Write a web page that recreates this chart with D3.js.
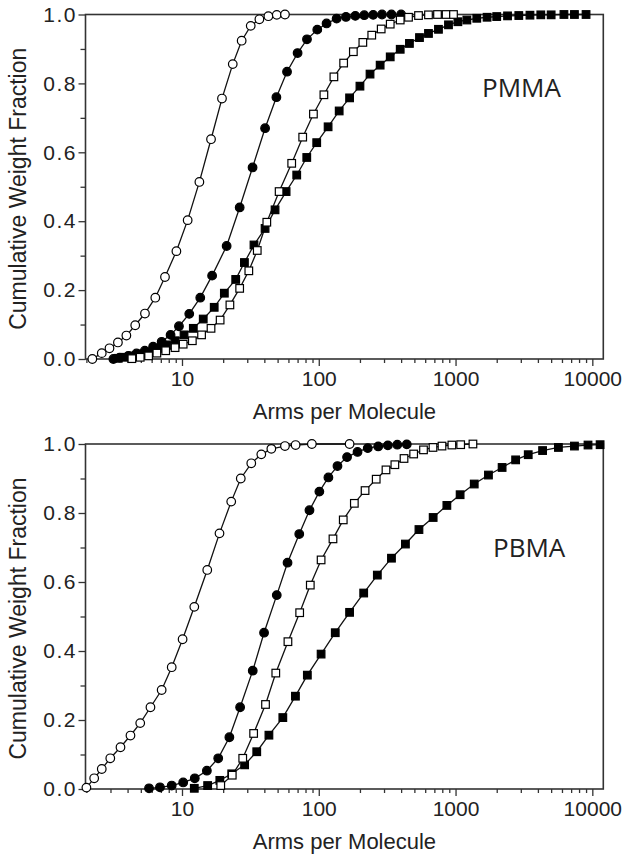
<!DOCTYPE html>
<html>
<head>
<meta charset="utf-8">
<script src="https://cdn.jsdelivr.net/npm/d3@7"></script>
<style>
    body { margin: 0; background: #fff; }
    svg { display: block; }
    .tick text { font-family: 'Liberation Sans', Arial, sans-serif; font-size: 21px; fill: #222; }
</style>
</head>
<body>
<svg id="chart" width="625" height="859"></svg>
<script>
// PMMA (top panel)
const pmmaOpenCircleX = [2.21, 2.59, 2.95, 3.4, 3.92, 4.55, 5.36, 6.38, 7.51, 9.1, 11.0, 13.4, 16.3, 19.6, 23.5, 27.3, 31.8, 36.8, 42.8, 49.3, 56.6];
const pmmaOpenCircleY = [0.0, 0.017, 0.031, 0.048, 0.068, 0.098, 0.132, 0.178, 0.238, 0.313, 0.403, 0.514, 0.638, 0.756, 0.856, 0.924, 0.967, 0.986, 0.995, 0.999, 1.0];
const pmmaFilledCircleX = [3.15, 3.5, 4.05, 4.65, 5.35, 6.15, 7.1, 8.25, 9.5, 11.3, 13.6, 16.6, 21.2, 26.4, 32.8, 40.5, 49.0, 58.6, 70.0, 82.0, 97.5, 114, 135, 158, 185, 215, 250, 290, 340, 400];
const pmmaFilledCircleY = [0.0, 0.004, 0.009, 0.016, 0.024, 0.036, 0.05, 0.07, 0.095, 0.131, 0.178, 0.242, 0.328, 0.44, 0.556, 0.67, 0.76, 0.834, 0.888, 0.928, 0.956, 0.974, 0.988, 0.993, 0.996, 0.998, 0.999, 1.0, 1.0, 1.0];
const pmmaOpenSquareX = [4.3, 4.95, 5.7, 6.55, 7.6, 8.9, 10.2, 11.9, 13.9, 16.3, 19.0, 22.4, 26.4, 30.8, 35.5, 41.7, 51.3, 63.4, 76.3, 91.4, 109, 129, 152, 179, 210, 244, 286, 333, 394, 453, 536, 634, 738, 853, 966];
const pmmaOpenSquareY = [0.001, 0.005, 0.009, 0.017, 0.024, 0.033, 0.043, 0.053, 0.07, 0.089, 0.113, 0.157, 0.205, 0.256, 0.315, 0.397, 0.486, 0.568, 0.644, 0.711, 0.767, 0.819, 0.859, 0.892, 0.919, 0.94, 0.958, 0.972, 0.984, 0.992, 0.997, 0.999, 1.0, 1.0, 1.0];
const pmmaFilledSquareX = [3.42, 3.83, 4.4, 5.07, 5.83, 6.71, 7.7, 8.9, 10.35, 12.1, 14.3, 17.2, 20.4, 24.7, 28.6, 33.6, 40.5, 47.9, 57.7, 69, 81.7, 96.6, 117, 141, 168, 200, 237, 281, 333, 394, 460, 545, 634, 750, 888, 1040, 1210, 1430, 1700, 2000, 2400, 2900, 3500, 4200, 5000, 6200, 7400, 9000];
const pmmaFilledSquareY = [0.002, 0.005, 0.009, 0.015, 0.021, 0.031, 0.041, 0.053, 0.07, 0.089, 0.116, 0.15, 0.191, 0.231, 0.28, 0.331, 0.379, 0.433, 0.486, 0.534, 0.585, 0.628, 0.674, 0.72, 0.758, 0.792, 0.827, 0.853, 0.877, 0.899, 0.916, 0.933, 0.945, 0.957, 0.97, 0.979, 0.984, 0.989, 0.992, 0.994, 0.996, 0.997, 0.998, 0.999, 0.999, 1.0, 1.0, 1.0];

// PBMA (bottom panel)
const pbmaOpenCircleX = [2.0, 2.28, 2.59, 2.99, 3.55, 4.2, 4.95, 5.88, 7.1, 8.41, 10.1, 12.3, 15.3, 18.8, 22.9, 26.9, 32.1, 38.0, 45.0, 56.6, 67.7, 89, 168];
const pbmaOpenCircleY = [0.004, 0.031, 0.058, 0.089, 0.121, 0.155, 0.191, 0.237, 0.287, 0.353, 0.434, 0.528, 0.635, 0.741, 0.833, 0.9, 0.944, 0.97, 0.986, 0.994, 0.997, 1.0, 1.0];
const pbmaFilledCircleX = [5.74, 6.9, 8.41, 10.2, 12.4, 15.2, 18.4, 22.2, 26.6, 32.9, 39.8, 49.3, 59.1, 72.0, 85.5, 101, 117.6, 137, 161, 192, 228, 272, 320, 375, 440];
const pbmaFilledCircleY = [0.002, 0.005, 0.01, 0.019, 0.031, 0.053, 0.089, 0.15, 0.237, 0.343, 0.453, 0.562, 0.656, 0.739, 0.808, 0.862, 0.903, 0.936, 0.962, 0.977, 0.988, 0.993, 0.996, 0.998, 0.999];
const pbmaOpenSquareX = [19.2, 23.3, 27.8, 33.4, 40.8, 48.5, 59.5, 72.5, 86.7, 104, 127, 151, 182, 218, 263, 310, 360, 420, 494, 583, 684, 796, 940, 1090, 1340];
const pbmaOpenSquareY = [0.01, 0.04, 0.089, 0.161, 0.245, 0.336, 0.427, 0.511, 0.591, 0.664, 0.725, 0.78, 0.828, 0.865, 0.898, 0.925, 0.94, 0.958, 0.971, 0.983, 0.99, 0.994, 0.997, 0.998, 1.0];
const pbmaFilledSquareX = [12.3, 15.4, 18.9, 23.1, 28.7, 35.2, 43.2, 54.6, 67.5, 82.5, 104, 132, 168, 213, 268, 340, 430, 540, 686, 864, 1080, 1370, 1740, 2190, 2750, 3400, 4330, 5650, 7400, 9300, 11400];
const pbmaFilledSquareY = [0.002, 0.01, 0.025, 0.044, 0.07, 0.108, 0.156, 0.207, 0.269, 0.33, 0.391, 0.453, 0.512, 0.568, 0.62, 0.669, 0.71, 0.752, 0.787, 0.822, 0.853, 0.884, 0.91, 0.932, 0.954, 0.969, 0.981, 0.99, 0.994, 0.997, 0.998];

const xMajorTicks = [10, 100, 1000, 10000];
const yMajorTicks = [0, 0.2, 0.4, 0.6, 0.8, 1.0];
const yMinorTicks = [0.1, 0.3, 0.5, 0.7, 0.9];
const xTitle = 'Arms per Molecule';
const yTitle = 'Cumulative Weight Fraction';

const zip = (xs, ys) => xs.map((v, i) => ({ x: v, y: ys[i] }));

const panels = [
    {
        label: 'PMMA', top: 14.5, bottom: 359, labelX: 482, labelY: 97,
        series: [
            { data: zip(pmmaOpenCircleX, pmmaOpenCircleY), shape: 'circle', fill: '#fff' },
            { data: zip(pmmaFilledCircleX, pmmaFilledCircleY), shape: 'circle', fill: '#000' },
            { data: zip(pmmaFilledSquareX, pmmaFilledSquareY), shape: 'square', fill: '#000' },
            { data: zip(pmmaOpenSquareX, pmmaOpenSquareY), shape: 'square', fill: '#fff' },
        ],
    },
    {
        label: 'PBMA', top: 444, bottom: 789, labelX: 493, labelY: 557,
        series: [
            { data: zip(pbmaOpenCircleX, pbmaOpenCircleY), shape: 'circle', fill: '#fff' },
            { data: zip(pbmaFilledCircleX, pbmaFilledCircleY), shape: 'circle', fill: '#000' },
            { data: zip(pbmaFilledSquareX, pbmaFilledSquareY), shape: 'square', fill: '#000' },
            { data: zip(pbmaOpenSquareX, pbmaOpenSquareY), shape: 'square', fill: '#fff' },
        ],
    },
];

const left = 85.5;
const right = 603.3;
const x = d3.scaleLog().domain([1.97, 12030]).range([left, right]);
const xMinorTicks = x.ticks().filter(t => !xMajorTicks.includes(t) && Math.log10(t) % 1 !== 0);

const svg = d3.select('#chart');

panels.forEach(p => {
    const y = d3.scaleLinear().domain([0, 1]).range([p.bottom, p.top]);
    const g = svg.append('g');

    // minor ticks
    g.append('g')
        .attr('transform', `translate(0,${p.bottom})`)
        .call(d3.axisBottom(x).tickValues(xMinorTicks).tickSize(4).tickFormat(''));
    g.append('g')
        .attr('transform', `translate(${left},0)`)
        .call(d3.axisLeft(y).tickValues(yMinorTicks).tickSize(5).tickFormat(''));

    // major ticks + labels
    g.append('g')
        .attr('transform', `translate(0,${p.bottom})`)
        .call(d3.axisBottom(x).tickValues(xMajorTicks).tickSize(7).tickPadding(5).tickFormat(d3.format('d')));
    g.append('g')
        .attr('transform', `translate(${left},0)`)
        .call(d3.axisLeft(y).tickValues(yMajorTicks).tickSize(7).tickPadding(1.5).tickFormat(d3.format('.1f')))
        .selectAll('text')
        .attr('letter-spacing', 1.5);

    g.selectAll('.domain').remove();
    g.selectAll('.tick line').attr('stroke', '#333').attr('stroke-width', 1.3);

    g.append('rect')
        .attr('x', left)
        .attr('y', p.top)
        .attr('width', right - left)
        .attr('height', p.bottom - p.top)
        .attr('fill', 'none')
        .attr('stroke', '#333')
        .attr('stroke-width', 1.6);

    g.append('text')
        .attr('x', (left + right) / 2)
        .attr('y', p.bottom + 60)
        .attr('text-anchor', 'middle')
        .style('font-family', "'Liberation Sans', Arial, sans-serif")
        .style('font-size', '22px')
        .style('fill', '#222')
        .text(xTitle);

    g.append('text')
        .attr('transform', `translate(26,${(p.top + p.bottom) / 2 + 2}) rotate(-90)`)
        .attr('text-anchor', 'middle')
        .style('font-family', "'Liberation Sans', Arial, sans-serif")
        .style('font-size', '23px')
        .style('fill', '#222')
        .text(yTitle);

    g.append('text')
        .attr('x', p.labelX)
        .attr('y', p.labelY)
        .style('font-family', "'Open Sans', sans-serif")
        .style('font-size', '26px')
        .style('fill', '#222')
        .text(p.label);

    const line = d3.line().x(d => x(d.x)).y(d => y(d.y));

    p.series.forEach(s => {
        g.append('path')
            .datum(s.data)
            .attr('d', line)
            .attr('fill', 'none')
            .attr('stroke', '#111')
            .attr('stroke-width', 1.3);
    });

    p.series.forEach(s => {
        const marks = g.append('g')
            .selectAll('.mark')
            .data(s.data)
            .enter();
        if (s.shape === 'circle') {
            marks.append('circle')
                .attr('cx', d => x(d.x))
                .attr('cy', d => y(d.y))
                .attr('r', 4.3)
                .attr('fill', s.fill)
                .attr('stroke', '#000')
                .attr('stroke-width', 1.2);
        } else {
            marks.append('rect')
                .attr('x', d => x(d.x) - 3.8)
                .attr('y', d => y(d.y) - 3.8)
                .attr('width', 7.6)
                .attr('height', 7.6)
                .attr('fill', s.fill)
                .attr('stroke', '#000')
                .attr('stroke-width', 1.2);
        }
    });
});
</script>
</body>
</html>
